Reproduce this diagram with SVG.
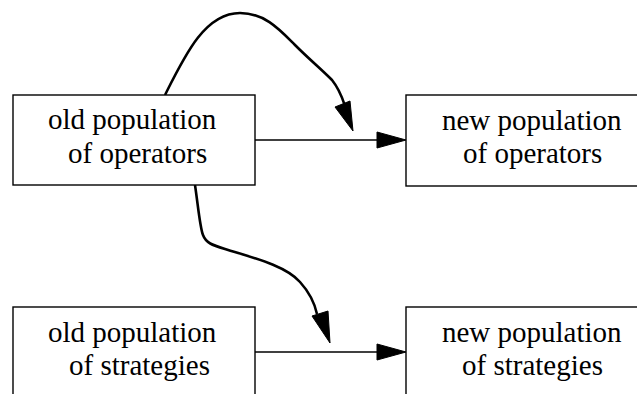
<svg xmlns="http://www.w3.org/2000/svg" width="637" height="394" viewBox="0 0 637 394">
<style>
.box{fill:#fff;stroke:#000;stroke-width:1.4}
.e{fill:none;stroke:#000;stroke-width:1.4}
.c{fill:none;stroke:#000;stroke-width:2.6}
.h{fill:#000;stroke:#000;stroke-width:1}
</style>
<rect width="637" height="394" fill="#fff"/>
<g id="connectors">
<path class="e" d="M255,140 L378,140"/>
<polygon class="h" points="377,132 406,140 377,148"/>
<path class="e" d="M255,352 L378,352"/>
<polygon class="h" points="377,344 406,352 377,360"/>
<path class="c" d="M165,95 C185,55 205,13 240,13 C265,13 280,30 295,45 C310,60 320,68 332,80 C340,90 343,100 345,106"/>
<polygon class="h" points="335,107 350,101 353,131"/>
<path class="c" d="M195,185 C198,205 200,228 203,235 C206,243 212,245 225,249 C250,257 285,265 300,282 C310,293 315,305 317,314"/>
<polygon class="h" points="312,316 328,311 330,343"/>
</g>
<g font-family="'Liberation Serif', 'Times New Roman', serif" font-size="29" fill="#000">
<g id="old_operators">
<rect class="box" x="13" y="95" width="242" height="90"/>
<text x="48" y="129">old population</text>
<text x="68" y="163">of operators</text>
</g>
<g id="new_operators">
<rect class="box" x="406" y="95" width="242" height="91"/>
<text x="442" y="130">new population</text>
<text x="463" y="163">of operators</text>
</g>
<g id="old_strategies">
<rect class="box" x="13" y="307" width="242" height="100"/>
<text x="48" y="342">old population</text>
<text x="69" y="375">of strategies</text>
</g>
<g id="new_strategies">
<rect class="box" x="406" y="307" width="242" height="100"/>
<text x="442" y="342">new population</text>
<text x="462" y="375">of strategies</text>
</g>
</g>
</svg>
